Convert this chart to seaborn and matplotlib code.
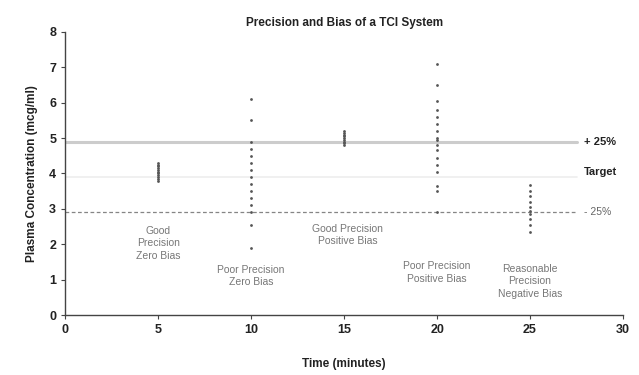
import pandas as pd
import matplotlib.pyplot as plt
import seaborn as sns

sns.set_theme(style='white')
plt.rcParams['font.family'] = ['Liberation Sans', 'DejaVu Sans']

# --- datos ---
T5 = [3.8, 3.85, 3.9, 3.95, 4.0, 4.05, 4.1, 4.15, 4.2, 4.25, 4.3]
T10 = [6.1, 5.5, 4.9, 4.7, 4.5, 4.3, 4.1, 3.9, 3.7, 3.5, 3.3, 3.1, 2.9, 2.55, 1.9]
T15 = [4.8, 4.85, 4.9, 4.95, 5.0, 5.05, 5.1, 5.15, 5.2]
T20 = [7.1, 6.5, 6.05, 5.8, 5.6, 5.4, 5.2, 5.0, 4.95, 4.8, 4.65, 4.45, 4.25, 4.05, 3.65, 3.5, 2.9]
T25 = [3.67, 3.5, 3.35, 3.2, 3.05, 2.95, 2.85, 2.7, 2.55, 2.35]
TIEMPOS = [5, 10, 15, 20, 25]

TARGET = 3.9
UPPER = 4.9
LOWER = 2.9

ETIQUETAS = ["Good\nPrecision\nZero Bias", "Poor Precision\nZero Bias",
             "Good Precision\nPositive Bias", "Poor Precision\nPositive Bias",
             "Reasonable\nPrecision\nNegative Bias"]
ETIQ_Y = [2.03, 1.1, 2.26, 1.2, 0.95]
ETIQ_X = [5, 10, 15.2, 20, 25]

filas = []
for t, vals in zip(TIEMPOS, [T5, T10, T15, T20, T25]):
    for v in vals:
        filas.append({'t': t, 'conc': v})
df = pd.DataFrame(filas)

fig = plt.figure(figsize=(6.39, 3.75), dpi=100)
ax = fig.add_axes([0.102, 0.16, 0.873, 0.755])

# lineas de referencia
ax.plot([0, 27.5], [UPPER, UPPER], color='#cccccc', lw=2.2, zorder=1)
ax.plot([0, 27.5], [TARGET, TARGET], color='#eeeeee', lw=1.2, zorder=1)
ax.plot([0, 27.5], [LOWER, LOWER], color='#858585', lw=0.9, ls=(0, (3, 2)), zorder=1)

sns.scatterplot(data=df, x='t', y='conc', ax=ax, color='#555555', marker='o',
                s=4, linewidth=0, legend=False, zorder=3)

ax.text(27.9, UPPER, "+ 25%", fontsize=8, weight='bold', va='center', color='#222222')
ax.text(27.9, TARGET + 0.15, "Target", fontsize=8, weight='bold', va='center', color='#222222')
ax.text(27.9, LOWER, "- 25%", fontsize=7.5, va='center', color='#666666')

for x, y, s in zip(ETIQ_X, ETIQ_Y, ETIQUETAS):
    ax.text(x, y, s, fontsize=7.5, ha='center', va='center', color='#777777',
            linespacing=1.3)

ax.set_xlim(0, 30)
ax.set_ylim(0, 8)
ax.set_xticks(range(0, 31, 5))
ax.set_yticks(range(0, 9))
ax.tick_params(axis='both', labelsize=9, length=3, width=0.8, color='#444444',
               direction='out', bottom=True, left=True, labelcolor='#222222')
for lbl in ax.get_xticklabels() + ax.get_yticklabels():
    lbl.set_fontweight('bold')
sns.despine(ax=ax)
for sp in ['left', 'bottom']:
    ax.spines[sp].set_color('#444444')
    ax.spines[sp].set_linewidth(1.0)

ax.set_xlabel("Time (minutes)", fontsize=8.5, weight='bold', labelpad=16, color='#222222')
ax.set_ylabel("Plasma Concentration (mcg/ml)", fontsize=8.5, weight='bold', labelpad=8,
              color='#222222')
ax.set_title("Precision and Bias of a TCI System", fontsize=8.5, weight='bold', pad=4,
             color='#222222')

fig.savefig('out.png', dpi=100)
